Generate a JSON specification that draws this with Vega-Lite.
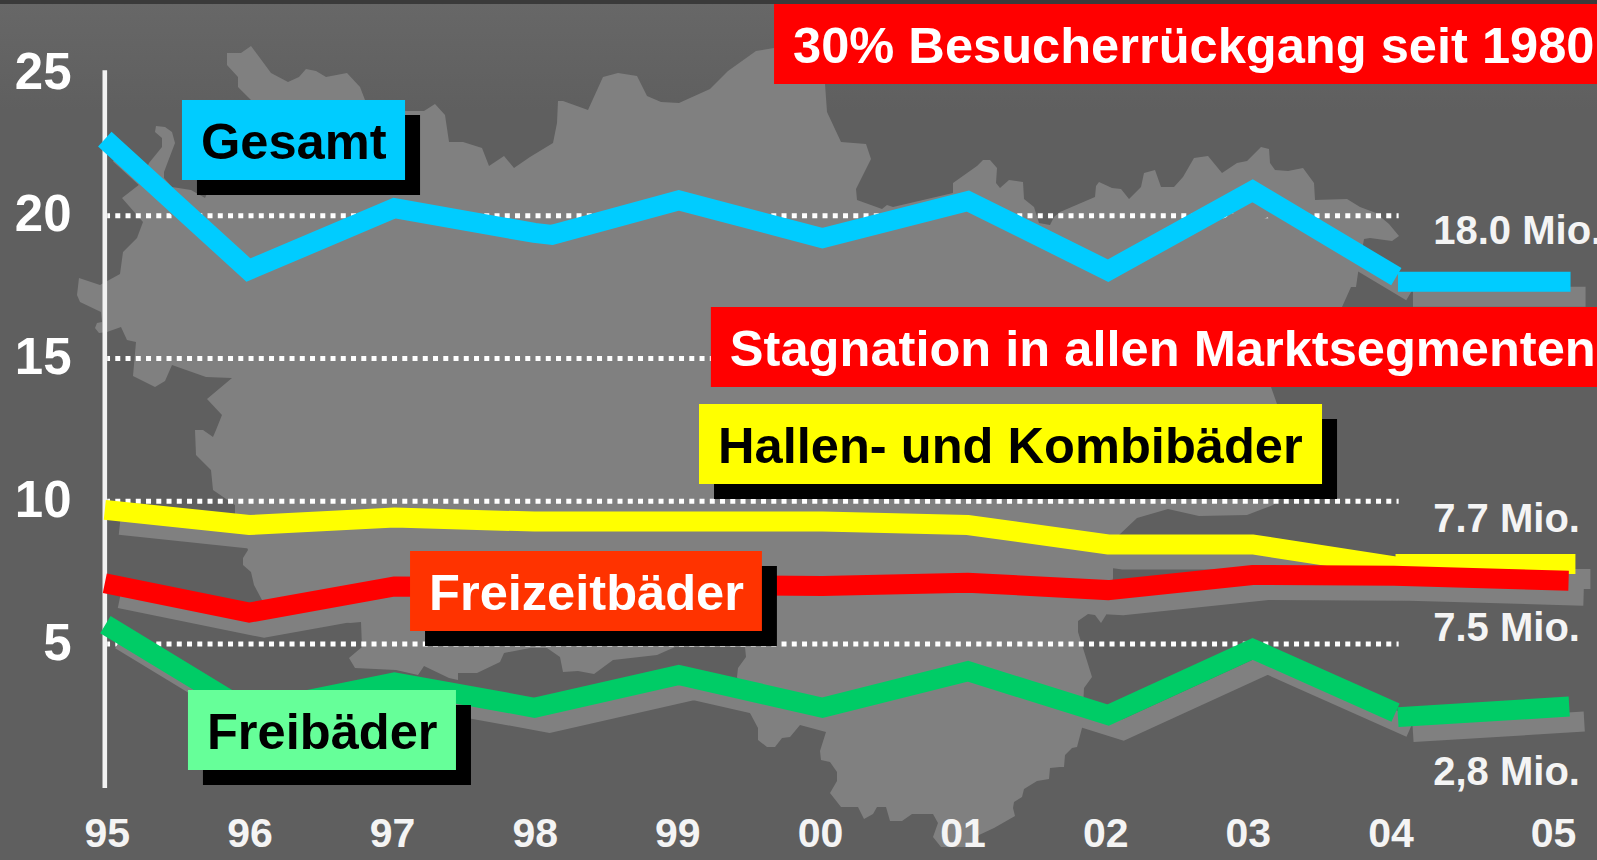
{"$schema":"https://vega.github.io/schema/vega-lite/v6.json","width":1597,"height":860,"padding":0,"autosize":{"type":"none"},"background":"#5f5f5f","config":{"view":{"stroke":null},"font":"Liberation Sans"},
"datasets":{
"bands":[{"x":1994.2,"x2":2005.4,"y":27.6,"y2":27.419,"part":"strip"},{"x":1994.2,"x2":2005.4,"y":27.419,"y2":23.7,"part":"glow"}],
"grid":[{"x":1995.003,"x2":2004.05,"y":5},{"x":1995.003,"x2":2004.05,"y":10},{"x":1995.003,"x2":2004.05,"y":15},{"x":1995.003,"x2":2004.05,"y":20}],
"spine":[{"x":1994.986,"y":-0.04,"y2":25.1}],
"series":[
{"s":"Gesamt","seg":"g1","x":1994.986,"y":22.69},{"s":"Gesamt","seg":"g1","x":1995.993,"y":18.10},{"s":"Gesamt","seg":"g1","x":1997.017,"y":20.27},{"s":"Gesamt","seg":"g1","x":1997.998,"y":19.40},{"s":"Gesamt","seg":"g1","x":1998.121,"y":19.33},{"s":"Gesamt","seg":"g1","x":1999.01,"y":20.54},{"s":"Gesamt","seg":"g1","x":2000.017,"y":19.22},{"s":"Gesamt","seg":"g1","x":2001.037,"y":20.52},{"s":"Gesamt","seg":"g1","x":2002.02,"y":18.08},{"s":"Gesamt","seg":"g1","x":2003.033,"y":20.88},{"s":"Gesamt","seg":"g1","x":2004.036,"y":17.87},{"s":"Gesamt","seg":"g2","x":2004.046,"y":17.69},{"s":"Gesamt","seg":"g2","x":2005.108,"y":17.69},
{"s":"Hallen","seg":"h1","x":1994.986,"y":9.70},{"s":"Hallen","seg":"h1","x":1995.998,"y":9.17},{"s":"Hallen","seg":"h1","x":1997.017,"y":9.43},{"s":"Hallen","seg":"h1","x":1997.998,"y":9.29},{"s":"Hallen","seg":"h1","x":1999.01,"y":9.29},{"s":"Hallen","seg":"h1","x":2000.017,"y":9.29},{"s":"Hallen","seg":"h1","x":2001.037,"y":9.17},{"s":"Hallen","seg":"h1","x":2002.02,"y":8.49},{"s":"Hallen","seg":"h1","x":2003.033,"y":8.49},{"s":"Hallen","seg":"h1","x":2004.036,"y":7.71},{"s":"Hallen","seg":"h2","x":2004.031,"y":7.80},{"s":"Hallen","seg":"h2","x":2005.138,"y":7.80},
{"s":"Freizeit","seg":"r1","x":1994.986,"y":7.13},{"s":"Freizeit","seg":"r1","x":1995.998,"y":6.10},{"s":"Freizeit","seg":"r1","x":1997.017,"y":7.02},{"s":"Freizeit","seg":"r1","x":1997.998,"y":6.99},{"s":"Freizeit","seg":"r1","x":1999.01,"y":7.07},{"s":"Freizeit","seg":"r1","x":2000.017,"y":7.03},{"s":"Freizeit","seg":"r1","x":2001.037,"y":7.15},{"s":"Freizeit","seg":"r1","x":2002.02,"y":6.89},{"s":"Freizeit","seg":"r1","x":2003.033,"y":7.42},{"s":"Freizeit","seg":"r1","x":2004.022,"y":7.39},{"s":"Freizeit","seg":"r1","x":2005.096,"y":7.22},
{"s":"Frei","seg":"f1","x":1994.99,"y":5.68},{"s":"Frei","seg":"f1","x":1995.998,"y":2.62},{"s":"Frei","seg":"f1","x":1997.017,"y":3.66},{"s":"Frei","seg":"f1","x":1997.998,"y":2.77},{"s":"Frei","seg":"f1","x":1999.01,"y":3.92},{"s":"Frei","seg":"f1","x":2000.017,"y":2.77},{"s":"Frei","seg":"f1","x":2001.037,"y":4.05},{"s":"Frei","seg":"f1","x":2002.02,"y":2.51},{"s":"Frei","seg":"f1","x":2003.033,"y":4.83},{"s":"Frei","seg":"f1","x":2004.031,"y":2.60},{"s":"Frei","seg":"f2","x":2004.046,"y":2.44},{"s":"Frei","seg":"f2","x":2005.10,"y":2.81}],
"boxes":[
{"label":"Gesamt","x":1995.527,"x2":1997.091,"y":24.056,"y2":21.254,"shadow":true,"tone":"dark"},
{"label":"30% Besucherrückgang seit 1980","x":1999.678,"x2":2005.3,"y":27.419,"y2":24.616,"shadow":false,"tone":"light"},
{"label":"Stagnation in allen Marktsegmenten","x":1999.235,"x2":2005.3,"y":16.806,"y2":14.004,"shadow":false,"tone":"light"},
{"label":"Hallen- und Kombibäder","x":1999.152,"x2":2003.52,"y":13.408,"y2":10.606,"shadow":true,"tone":"dark"},
{"label":"Freizeitbäder","x":1997.126,"x2":1999.593,"y":8.259,"y2":5.457,"shadow":true,"tone":"light"},
{"label":"Freibäder","x":1995.569,"x2":1997.448,"y":3.391,"y2":0.588,"shadow":true,"tone":"dark"}],
"ends":[{"label":"18.0 Mio.","x":2004.263,"y":19.01},{"label":"7.7 Mio.","x":2004.263,"y":8.94},{"label":"7.5 Mio.","x":2004.263,"y":5.12},{"label":"2,8 Mio.","x":2004.263,"y":0.06}],
"land":[{"type":"Feature","properties":{"name":"Deutschland"},"geometry":{"type":"Polygon","coordinates":[
[[227,53],[241,53],[251,46],[271,73],[288,82],[299,77],[306,69],[316,71],[326,77],[347,73],[360,87],[365,100],[406,111],[424,111],[435,104],[445,115],[449,142],[463,142],[482,148],[489,166],[504,156],[514,168],[530,157],[553,143],[557,123],[558,101],[563,101],[588,110],[603,77],[618,73],[637,76],[647,96],[661,102],[679,103],[710,89],[728,71],[756,51],[774,48],[794,40],[819,60],[825,84],[827,112],[841,142],[866,144],[871,159],[856,189],[857,200],[882,209],[887,205],[893,207],[953,193],[953,183],[977,166],[983,160],[990,160],[997,168],[996,183],[1000,188],[1009,180],[1023,182],[1024,199],[1034,207],[1039,223],[1050,225],[1054,217],[1060,212],[1095,197],[1096,186],[1099,182],[1112,188],[1121,189],[1129,199],[1141,187],[1144,173],[1155,170],[1161,187],[1174,187],[1183,177],[1194,158],[1208,156],[1222,173],[1237,163],[1247,161],[1261,147],[1269,149],[1270,163],[1275,170],[1288,171],[1303,168],[1314,183],[1315,200],[1347,199],[1360,207],[1376,213],[1389,224],[1399,236],[1392,241],[1370,238],[1364,239],[1358,273],[1356,287],[1351,287],[1342,307],[1271,387],[1277,404],[1286,495],[1273,505],[1247,515],[1199,516],[1168,509],[1137,518],[1119,535],[1113,569],[1113,578],[1106,615],[1101,623],[1095,615],[1088,614],[1078,621],[1078,632],[1092,677],[1084,688],[1082,728],[1077,747],[1072,748],[1065,755],[1064,767],[1060,767],[1050,768],[1049,779],[1037,781],[1024,789],[1022,797],[1014,802],[1013,808],[1015,816],[994,828],[979,835],[971,847],[941,847],[933,837],[938,823],[933,814],[912,814],[902,821],[890,821],[886,807],[877,807],[873,814],[864,819],[858,807],[841,807],[830,793],[837,781],[837,772],[830,762],[821,760],[820,751],[826,732],[800,725],[790,737],[782,738],[775,747],[767,747],[758,740],[758,728],[750,713],[737,677],[738,668],[746,657],[745,647],[675,647],[657,655],[613,660],[594,674],[578,671],[563,672],[560,657],[547,648],[530,648],[504,653],[500,662],[477,673],[458,673],[458,680],[449,678],[424,666],[418,675],[396,670],[355,668],[349,658],[362,647],[361,622],[350,623],[335,620],[262,600],[254,585],[251,572],[243,565],[243,558],[248,550],[235,513],[235,505],[213,490],[211,470],[196,455],[195,430],[203,430],[213,437],[216,430],[222,415],[207,399],[232,378],[206,377],[172,365],[165,381],[155,387],[133,376],[136,342],[127,340],[121,327],[107,332],[99,333],[95,328],[97,323],[102,322],[101,312],[80,302],[77,295],[79,278],[94,283],[100,285],[120,274],[123,252],[137,238],[143,222],[122,198],[140,184],[149,163],[162,147],[162,138],[155,132],[156,126],[165,127],[172,132],[175,143],[164,172],[164,178],[172,187],[191,190],[205,198],[218,170],[251,100],[238,87],[238,77],[227,65],[227,53]],
[[927,240],[973,228],[973,236],[959,247],[938,248],[927,240]]]}}]},
"layer":[
{"data":{"name":"bands"},"encoding":{
"x":{"field":"x","type":"quantitative","title":null,"scale":{"type":"linear","domain":[1995,2004,2005],"range":[106.8,1390.5,1553],"nice":false,"zero":false},"axis":{"orient":"bottom","offset":-26,"values":[1995,1996,1997,1998,1999,2000,2001,2002,2003,2004,2005],"labelExpr":"slice(format(datum.value,'d'),2)","domain":false,"ticks":false,"grid":false,"labelPadding":0,"labelBaseline":"middle","labelFontSize":41,"labelFontWeight":"bold","labelFont":"Liberation Sans","labelColor":"#f4f4f4","labelFlush":false,"labelOverlap":false,"zindex":1}},
"y":{"field":"y","type":"quantitative","title":null,"scale":{"domain":[-2.564,27.56],"nice":false,"zero":false},"axis":{"orient":"left","offset":-71,"values":[5,10,15,20,25],"domain":false,"ticks":false,"grid":false,"labelPadding":0,"labelOffset":0,"labelFontSize":51,"labelFontWeight":"bold","labelFont":"Liberation Sans","labelColor":"#ffffff","labelFlush":false,"labelOverlap":false,"zindex":1}},
"x2":{"field":"x2"},"y2":{"field":"y2"}},
"layer":[
{"transform":[{"filter":"datum.part=='glow'"}],"mark":{"type":"rect","fill":{"x1":0,"y1":0,"x2":0,"y2":1,"gradient":"linear","stops":[{"offset":0,"color":"#676767"},{"offset":1,"color":"#5f5f5f"}]}}},
{"transform":[{"filter":"datum.part=='strip'"}],"mark":{"type":"rect","fill":"#3a3a3a"}}]},
{"data":{"name":"land"},"mark":{"type":"geoshape","fill":"#808080","stroke":null},"projection":{"type":"identity","reflectY":false,"scale":1,"translate":[0,0]},"encoding":{}},
{"encoding":{
"x":{"field":"x","type":"quantitative","title":null,"scale":{"type":"linear","domain":[1995,2004,2005],"range":[106.8,1390.5,1553],"nice":false,"zero":false},"axis":{"orient":"bottom","offset":-26,"values":[1995,1996,1997,1998,1999,2000,2001,2002,2003,2004,2005],"labelExpr":"slice(format(datum.value,'d'),2)","domain":false,"ticks":false,"grid":false,"labelPadding":0,"labelBaseline":"middle","labelFontSize":41,"labelFontWeight":"bold","labelFont":"Liberation Sans","labelColor":"#f4f4f4","labelFlush":false,"labelOverlap":false,"zindex":1}},
"y":{"field":"y","type":"quantitative","title":null,"scale":{"domain":[-2.564,27.56],"nice":false,"zero":false},"axis":{"orient":"left","offset":-71,"values":[5,10,15,20,25],"domain":false,"ticks":false,"grid":false,"labelPadding":0,"labelOffset":0,"labelFontSize":51,"labelFontWeight":"bold","labelFont":"Liberation Sans","labelColor":"#ffffff","labelFlush":false,"labelOverlap":false,"zindex":1}}},
"layer":[
{"data":{"name":"grid"},"mark":{"type":"rule","color":"#ffffff","strokeWidth":5,"strokeDash":[5,5.25],"strokeDashOffset":2.2},"encoding":{"x2":{"field":"x2"}}},
{"data":{"name":"spine"},"mark":{"type":"rule","color":"#f2f2f2","strokeWidth":4.6},"encoding":{"y2":{"field":"y2"}}},
{"data":{"name":"series"},"mark":{"type":"line","color":"#808080","strokeWidth":20,"strokeCap":"butt","strokeJoin":"miter","xOffset":15,"yOffset":15},"encoding":{"detail":{"field":"seg"}}},
{"data":{"name":"series"},"mark":{"type":"line","strokeWidth":20,"strokeCap":"butt","strokeJoin":"miter"},"encoding":{"detail":{"field":"seg"},"stroke":{"field":"s","type":"nominal","legend":null,"scale":{"domain":["Gesamt","Hallen","Freizeit","Frei"],"range":["#00ccff","#ffff00","#ff0000","#00cc66"]}}}},
{"data":{"name":"boxes"},"transform":[{"filter":"datum.shadow"}],"mark":{"type":"rect","fill":"#000000","xOffset":15,"x2Offset":15,"yOffset":15,"y2Offset":15},"encoding":{"x2":{"field":"x2"},"y2":{"field":"y2"}}},
{"data":{"name":"boxes"},"mark":{"type":"rect"},"encoding":{"x2":{"field":"x2"},"y2":{"field":"y2"},"fill":{"field":"label","type":"nominal","legend":null,"scale":{"domain":["Gesamt","30% Besucherrückgang seit 1980","Stagnation in allen Marktsegmenten","Hallen- und Kombibäder","Freizeitbäder","Freibäder"],"range":["#00ccff","#ff0000","#ff0000","#ffff00","#ff3300","#66ff99"]}}}},
{"data":{"name":"boxes"},"mark":{"type":"text","align":"left","baseline":"alphabetic","dx":19,"dy":59,"fontSize":50.6,"fontWeight":"bold","font":"Liberation Sans"},"encoding":{"text":{"field":"label"},"color":{"condition":{"test":"datum.tone=='light'","value":"#ffffff"},"value":"#000000"}}},
{"data":{"name":"ends"},"mark":{"type":"text","align":"left","baseline":"alphabetic","fontSize":40,"fontWeight":"bold","font":"Liberation Sans","color":"#f4f4f4"},"encoding":{"text":{"field":"label"}}}
]}
]}
